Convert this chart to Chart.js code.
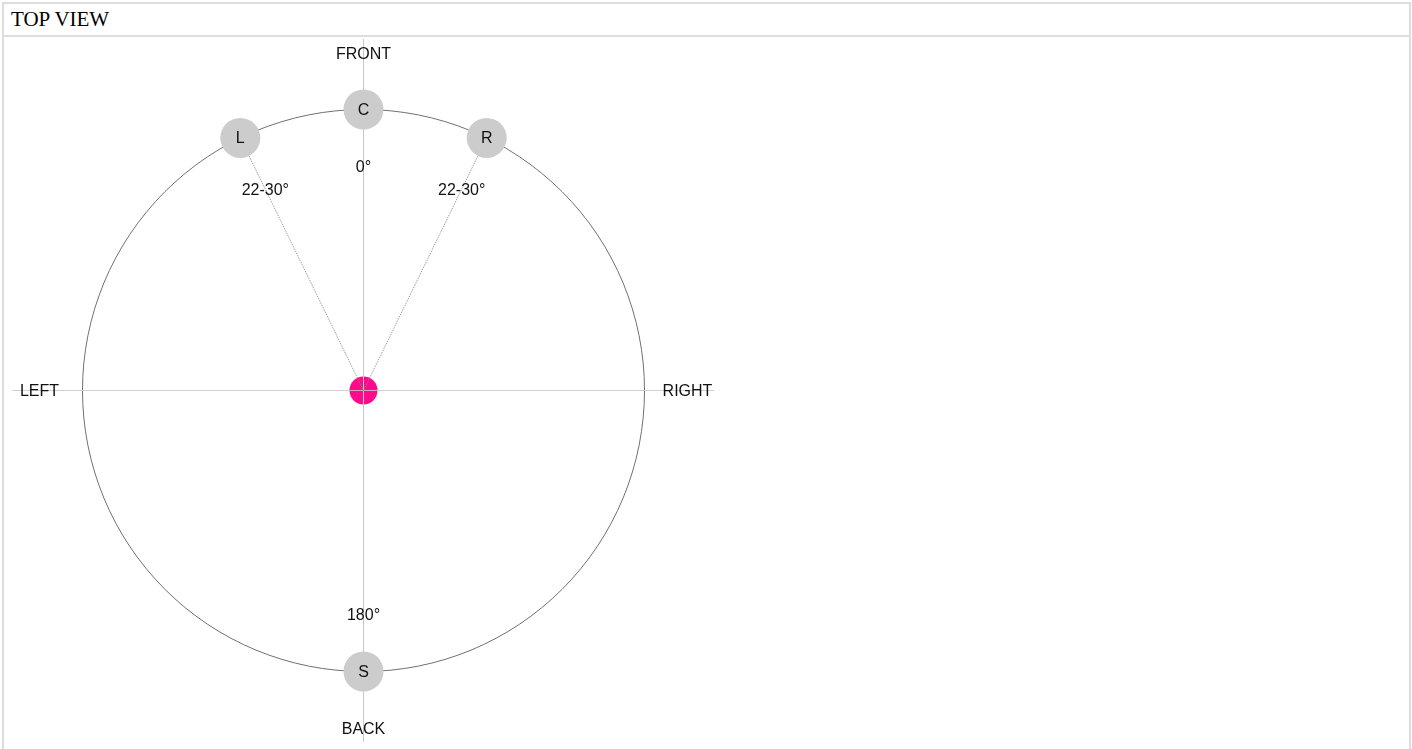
<!DOCTYPE html>
<html>
<head>
<meta charset="utf-8">
<script src="https://cdn.jsdelivr.net/npm/chart.js@4/dist/chart.umd.min.js"></script>
<style>
  html, body { margin: 0; padding: 0; background: #fff; overflow: hidden; }
  #panel { position: absolute; left: 2px; top: 2px; width: 1405px; height: 800px; border: 2px solid #dddddd; }
  #header { height: 31px; line-height: 31px; border-bottom: 2px solid #dddddd; font-family: "Liberation Serif", "Times New Roman", serif; font-size: 21px; color: #000; padding-left: 7px; white-space: nowrap; }
  #wrap { position: relative; width: 1405px; height: 712px; }
</style>
</head>
<body>
<div id="panel">
  <div id="header">TOP VIEW</div>
  <div id="wrap"><canvas id="c" width="1405" height="712"></canvas></div>
</div>
<script>
// ---- data ----
const speakerLabels = ['L', 'C', 'R', 'S'];
const speakerAngles = [-26, 0, 26, 180];          // degrees, 0 = front, clockwise
const angleLabels = ['22-30°', '0°', '22-30°', '180°'];
const directionLabels = ['FRONT', 'RIGHT', 'BACK', 'LEFT'];
const directionAngles = [0, 90, 180, 270];
const guideSpeakers = ['L', 'R'];                  // dotted lines from listener

// ---- geometry / style ----
const RADIUS = 281;        // circle radius in scale units (1 unit = 1px)
const AXIS_LEN = 351;
const ANGLE_LABEL_R = 224;
const DIR_LABEL_R = [337, 324, 338, 324];
const FONT = '16px "Liberation Sans", Arial, sans-serif';

function polar(angleDeg, r) {
  const a = angleDeg * Math.PI / 180;
  return { x: r * Math.sin(a), y: r * Math.cos(a) };
}

const speakerPoints = speakerAngles.map(a => polar(a, RADIUS));

const datasets = [];
datasets.push({
  type: 'scatter', label: 'speakers', data: speakerPoints,
  pointRadius: 20, pointHoverRadius: 20, backgroundColor: '#cccccc', borderWidth: 0, order: 0, clip: false
});
guideSpeakers.forEach(name => {
  const p = speakerPoints[speakerLabels.indexOf(name)];
  datasets.push({
    type: 'line', label: 'guide ' + name, data: [{ x: 0, y: 0 }, p],
    borderColor: '#8a8a8a', borderWidth: 1, borderDash: [1, 1], pointRadius: 0, fill: false, order: 1, clip: false
  });
});
datasets.push({
  type: 'line', label: 'axis h', data: [{ x: -AXIS_LEN, y: 0 }, { x: AXIS_LEN, y: 0 }],
  borderColor: 'rgba(200,200,200,0.85)', borderWidth: 1, pointRadius: 0, fill: false, order: 2, clip: false
});
datasets.push({
  type: 'line', label: 'axis v', data: [{ x: 0, y: AXIS_LEN }, { x: 0, y: -AXIS_LEN }],
  borderColor: 'rgba(200,200,200,0.85)', borderWidth: 1, pointRadius: 0, fill: false, order: 2, clip: false
});
datasets.push({
  type: 'scatter', label: 'listener', data: [{ x: 0, y: 0 }],
  pointRadius: 14, pointHoverRadius: 14, backgroundColor: '#ff0a8c', borderWidth: 0, order: 3, clip: false
});

const drawPlugin = {
  id: 'drawPlugin',
  beforeDatasetsDraw(chart) {
    const ctx = chart.ctx, xs = chart.scales.x, ys = chart.scales.y;
    const cx = xs.getPixelForValue(0), cy = ys.getPixelForValue(0);
    const r = xs.getPixelForValue(RADIUS) - cx;
    ctx.save();
    ctx.beginPath();
    ctx.arc(cx, cy, r, 0, Math.PI * 2);
    ctx.strokeStyle = '#707070';
    ctx.lineWidth = 1;
    ctx.stroke();
    ctx.restore();
  },
  afterDatasetsDraw(chart) {
    const ctx = chart.ctx, xs = chart.scales.x, ys = chart.scales.y;
    ctx.save();
    ctx.font = FONT;
    ctx.fillStyle = '#111';
    ctx.textAlign = 'center';
    ctx.textBaseline = 'middle';
    speakerLabels.forEach((t, i) => {
      const p = speakerPoints[i];
      ctx.fillText(t, xs.getPixelForValue(p.x), ys.getPixelForValue(p.y) + 1);
    });
    angleLabels.forEach((t, i) => {
      const p = polar(speakerAngles[i], ANGLE_LABEL_R);
      ctx.fillText(t, xs.getPixelForValue(p.x), ys.getPixelForValue(p.y) + 1);
    });
    directionLabels.forEach((t, i) => {
      const p = polar(directionAngles[i], DIR_LABEL_R[i]);
      ctx.fillText(t, xs.getPixelForValue(p.x), ys.getPixelForValue(p.y) + 1);
    });
    ctx.restore();
  }
};

new Chart(document.getElementById('c'), {
  type: 'scatter',
  data: { datasets },
  options: {
    responsive: false,
    animation: false,
    devicePixelRatio: 1,
    layout: { padding: 0, autoPadding: false },
    plugins: { legend: { display: false }, tooltip: { enabled: false } },
    events: [],
    scales: {
      x: { type: 'linear', display: false, min: -359.5, max: 1045.5 },
      y: { type: 'linear', display: false, min: -358.5, max: 353.5 }
    }
  },
  plugins: [drawPlugin]
});
</script>
</body>
</html>
